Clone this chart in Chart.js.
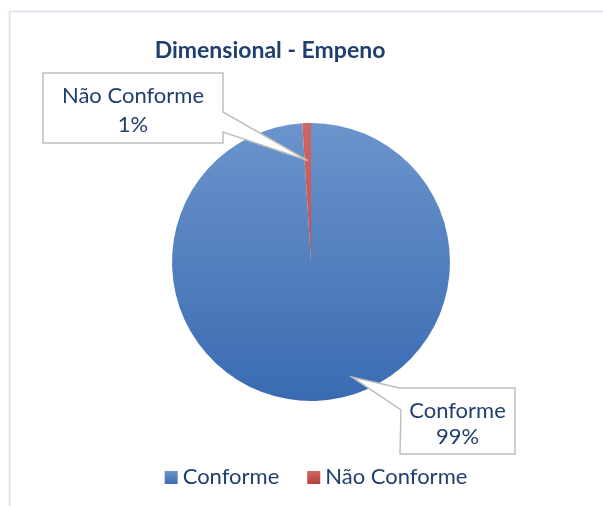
<!DOCTYPE html>
<html>
<head>
<meta charset="utf-8">
<script src="https://cdn.jsdelivr.net/npm/chart.js@4/dist/chart.umd.min.js"></script>
<style>
  html, body { margin: 0; padding: 0; background: #fff; }
  #wrap { width: 603px; height: 506px; position: relative; }
</style>
</head>
<body>
<div id="wrap"><canvas id="pie" width="603" height="506"></canvas></div>
<script>
// Chart data
const chartTitle = "Dimensional - Empeno";
const categories = ["Conforme", "Não Conforme"];
const values = [99, 1];
const pctLabels = ["99%", "1%"];

// gradient stops per slice (top -> bottom)
const sliceTop = ["#6b94cc", "#cf6663"];
const sliceBottom = ["#3a6bb1", "#b73f3c"];
const legendColors = ["#4f81bd", "#c0504d"];

const textColor = "#1f3f6e";
const fontFamily = "Lato, 'Open Sans', sans-serif";

// callout boxes: [left, top, right, bottom] plus pointer base on the box edge
const callouts = [
    { box: [400, 388, 515, 454], base: [[400, 388], [401, 410]], anchor: [0.45, 0.88], lines: [418, 444] },
    { box: [43, 73, 223, 143], base: [[223, 112], [223, 132]], anchor: [0.5, 0.73], lines: [103, 132] }
];

function sliceFill(context) {
    const chart = context.chart;
    const area = chart.chartArea;
    const i = context.dataIndex;
    if (!area) return legendColors[i];
    const g = chart.ctx.createLinearGradient(0, area.top, 0, area.bottom);
    g.addColorStop(0, sliceTop[i]);
    g.addColorStop(1, sliceBottom[i]);
    return g;
}

const decorations = {
    id: 'decorations',
    beforeDraw(chart) {
        const ctx = chart.ctx;
        ctx.save();
        ctx.fillStyle = '#ffffff';
        ctx.fillRect(0, 0, chart.width, chart.height);
        // outer frame
        ctx.strokeStyle = '#d6e0f0';
        ctx.lineWidth = 1.5;
        ctx.strokeRect(9.5, 11.5, chart.width + 20, chart.height + 20);
        ctx.restore();
    },
    afterDatasetsDraw(chart) {
        const ctx = chart.ctx;
        const meta = chart.getDatasetMeta(0);
        ctx.save();

        // title
        ctx.fillStyle = textColor;
        ctx.font = "bold 23px " + fontFamily;
        ctx.textAlign = 'center';
        ctx.textBaseline = 'alphabetic';
        ctx.fillText(chartTitle, 270, 58);

        // callouts with leader pointing into each slice
        callouts.forEach((c, i) => {
            const arc = meta.data[i].getProps(['x', 'y', 'startAngle', 'endAngle', 'outerRadius'], true);
            const ang = arc.startAngle + (arc.endAngle - arc.startAngle) * c.anchor[0];
            const tx = arc.x + Math.cos(ang) * arc.outerRadius * c.anchor[1];
            const ty = arc.y + Math.sin(ang) * arc.outerRadius * c.anchor[1];
            const [l, t, r, b] = c.box;
            const [p1, p2] = c.base;

            ctx.beginPath();
            if (i === 0) {
                // pointer leaves from the left edge
                ctx.moveTo(l, t);
                ctx.lineTo(r, t);
                ctx.lineTo(r, b);
                ctx.lineTo(l, b);
                ctx.lineTo(p2[0], p2[1]);
                ctx.lineTo(tx, ty);
                ctx.lineTo(p1[0], p1[1]);
            } else {
                // pointer leaves from the right edge
                ctx.moveTo(l, t);
                ctx.lineTo(r, t);
                ctx.lineTo(p1[0], p1[1]);
                ctx.lineTo(tx, ty);
                ctx.lineTo(p2[0], p2[1]);
                ctx.lineTo(r, b);
                ctx.lineTo(l, b);
            }
            ctx.closePath();
            ctx.fillStyle = '#ffffff';
            ctx.fill();
            ctx.strokeStyle = '#bfbfbf';
            ctx.lineWidth = 1.5;
            ctx.stroke();

            ctx.fillStyle = textColor;
            ctx.font = "22px " + fontFamily;
            ctx.textAlign = 'center';
            const cx = (l + r) / 2;
            ctx.fillText(categories[i], cx, c.lines[0]);
            ctx.fillText(pctLabels[i], cx, c.lines[1]);
        });

        // legend row
        ctx.font = "22px " + fontFamily;
        ctx.textAlign = 'left';
        const box = 13, gap = 5, spacing = 28;
        let total = 0;
        categories.forEach((name, i) => {
            total += box + gap + ctx.measureText(name).width;
            if (i < categories.length - 1) total += spacing;
        });
        let x = 316 - total / 2;
        categories.forEach((name, i) => {
            const g = ctx.createLinearGradient(0, 471, 0, 484);
            g.addColorStop(0, sliceTop[i]);
            g.addColorStop(1, sliceBottom[i]);
            ctx.fillStyle = g;
            ctx.fillRect(x, 471, box, box);
            x += box + gap;
            ctx.fillStyle = textColor;
            ctx.fillText(name, x, 484);
            x += ctx.measureText(name).width + spacing;
        });
        ctx.restore();
    }
};

new Chart(document.getElementById('pie'), {
    type: 'pie',
    data: {
        labels: categories,
        datasets: [{
            data: values,
            backgroundColor: sliceFill,
            borderWidth: 0
        }]
    },
    options: {
        responsive: false,
        animation: false,
        layout: { padding: { left: 172, top: 123, right: 153, bottom: 105 } },
        plugins: {
            legend: { display: false },
            title: { display: false },
            tooltip: { enabled: false }
        }
    },
    plugins: [decorations]
});
</script>
</body>
</html>
